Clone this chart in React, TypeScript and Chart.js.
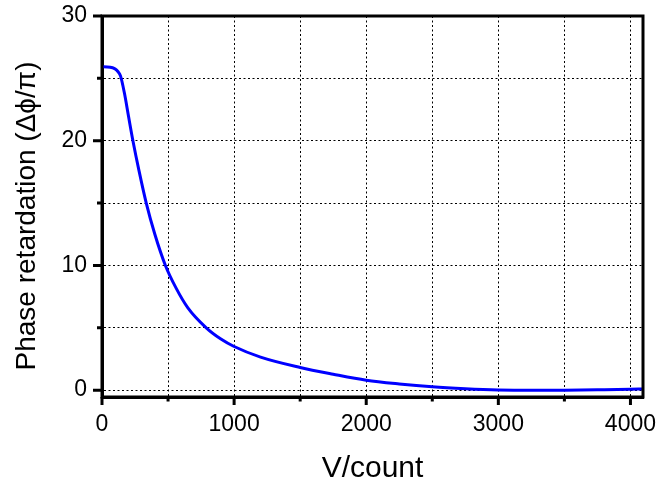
import React, { useEffect, useRef } from "react";
import { Chart, registerables } from "chart.js";

Chart.register(...registerables);

const voltage = [0, 40, 80, 100, 120, 140, 170, 200, 234, 280, 335, 400, 480, 560, 650, 789, 900, 1000, 1200, 1500, 1750, 2000, 2250, 2500, 2750, 3000, 3250, 3500, 3750, 4000, 4095];
const retardation = [25.93, 25.92, 25.85, 25.75, 25.55, 25.2, 23.8, 22.0, 20.0, 17.6, 15.0, 12.5, 10.0, 8.2, 6.6, 5.0, 4.1, 3.5, 2.65, 1.82, 1.28, 0.8, 0.5, 0.27, 0.12, 0.02, -0.01, 0.0, 0.03, 0.07, 0.1];

const xTicks = [0, 500, 1000, 1500, 2000, 2500, 3000, 3500, 4000];
const xLabelled = [0, 1000, 2000, 3000, 4000];
const yTicks = [0, 5, 10, 15, 20, 25, 30];
const yLabelled = [0, 10, 20, 30];
const xTitle = "V/count";
const yTitle = "Phase retardation (Δϕ/π)";
const FONT = "'Liberation Sans', Arial, sans-serif";

const framePlugin = {
  id: "frame",
  afterDraw(chart: any) {
    const { ctx, chartArea: a, scales } = chart;
    const xs = scales.x;
    const ys = scales.y;
    ctx.save();
    ctx.strokeStyle = "#000";
    ctx.lineWidth = 3;
    ctx.lineCap = "butt";
    ctx.beginPath();
    for (const t of xs.ticks) {
      const px = xs.getPixelForValue(t.value);
      const len = xLabelled.includes(t.value) ? 8 : 4.5;
      ctx.moveTo(px, a.bottom);
      ctx.lineTo(px, a.bottom + len);
    }
    for (const t of ys.ticks) {
      const py = ys.getPixelForValue(t.value);
      const len = yLabelled.includes(t.value) ? 9 : 5;
      ctx.moveTo(a.left, py);
      ctx.lineTo(a.left - len, py);
    }
    ctx.stroke();
    ctx.strokeRect(a.left, a.top, a.right - a.left, a.bottom - a.top);
    // y axis title
    ctx.fillStyle = "#000";
    ctx.font = `28px ${FONT}`;
    ctx.textAlign = "center";
    ctx.textBaseline = "alphabetic";
    ctx.translate(35, 216);
    ctx.rotate(-Math.PI / 2);
    ctx.fillText(yTitle, 0, 0);
    ctx.restore();
  },
};

export default function App() {
  const ref = useRef<HTMLCanvasElement>(null);
  useEffect(() => {
    if (!ref.current) return;
    const chart = new Chart(ref.current, {
      type: "line",
      data: {
        datasets: [
          {
            data: voltage.map((v, i) => ({ x: v, y: retardation[i] })),
            borderColor: "#0000ff",
            borderWidth: 3,
            pointRadius: 0,
            fill: false,
            cubicInterpolationMode: "monotone",
          },
        ],
      },
      options: {
        animation: false,
        responsive: false,
        layout: { padding: { top: 16, right: 14, left: 0, bottom: 0 } },
        plugins: { legend: { display: false }, tooltip: { enabled: false } },
        scales: {
          x: {
            type: "linear",
            min: 0,
            max: 4095,
            afterBuildTicks: (s: any) => {
              s.ticks = xTicks.map((v) => ({ value: v }));
            },
            afterFit: (s: any) => {
              s.height = 90;
              s.paddingLeft = 0;
              s.paddingRight = 0;
              s.paddingTop = 0;
              s.paddingBottom = 0;
            },
            ticks: {
              autoSkip: false,
              maxRotation: 0,
              minRotation: 0,
              padding: 14,
              color: "#000",
              font: { family: FONT, size: 23 },
              callback: (v: any) => (xLabelled.includes(Number(v)) ? String(v) : ""),
            },
            grid: { color: "#000", lineWidth: 1, drawTicks: false },
            border: { display: true, color: "#000", width: 3, dash: [2, 2.5] },
            title: {
              display: true,
              text: xTitle,
              color: "#000",
              font: { family: FONT, size: 30 },
              padding: { top: 0, bottom: 0 },
            },
          },
          y: {
            type: "linear",
            min: -0.55,
            max: 30,
            afterBuildTicks: (s: any) => {
              s.ticks = yTicks.map((v) => ({ value: v }));
            },
            afterFit: (s: any) => {
              s.width = 102;
              s.paddingLeft = 0;
              s.paddingRight = 0;
              s.paddingTop = 0;
              s.paddingBottom = 0;
            },
            ticks: {
              autoSkip: false,
              padding: 15,
              color: "#000",
              font: { family: FONT, size: 23 },
              callback: (v: any) => (yLabelled.includes(Number(v)) ? String(v) : ""),
            },
            grid: { color: "#000", lineWidth: 1, drawTicks: false },
            border: { display: true, color: "#000", width: 3, dash: [2, 2.5] },
            title: { display: false },
          },
        },
      },
      plugins: [framePlugin],
    });
    return () => chart.destroy();
  }, []);
  return (
    <div style={{ position: "fixed", left: 0, top: 0, width: 657, height: 487, background: "#fff" }}>
      <canvas ref={ref} width={657} height={487} />
    </div>
  );
}
